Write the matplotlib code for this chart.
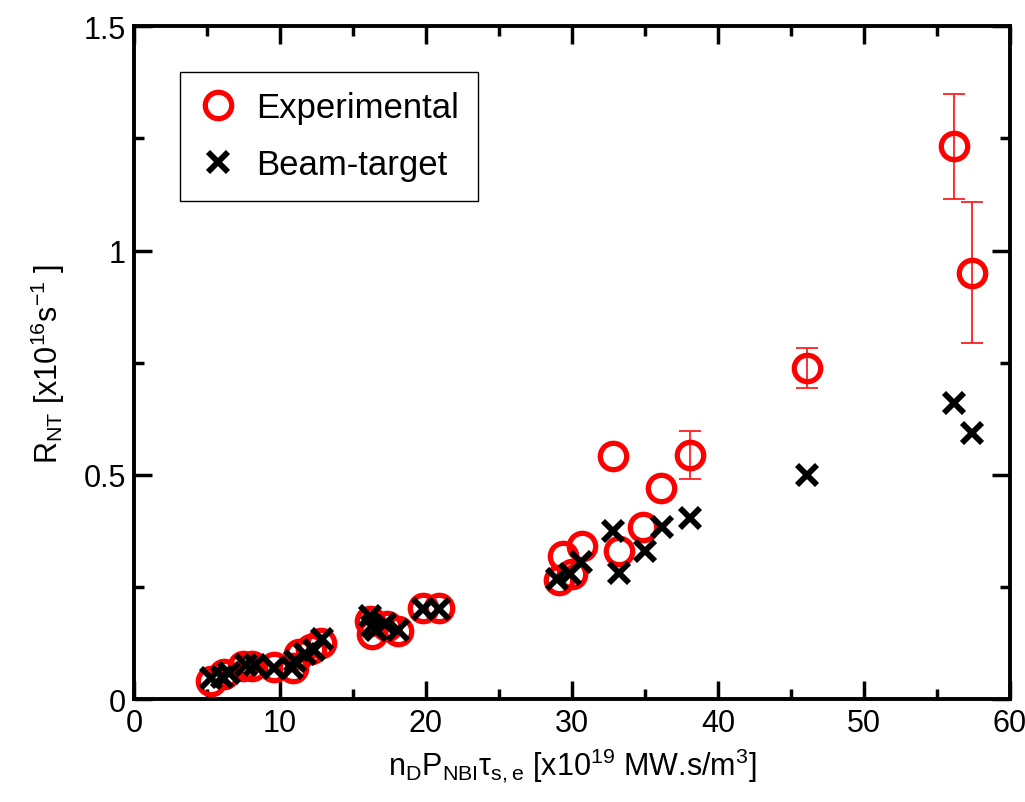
import matplotlib
matplotlib.use("Agg")
from matplotlib import pyplot as plt
from matplotlib.ticker import MultipleLocator, FuncFormatter

plt.rcParams['font.family'] = ['Liberation Sans', 'DejaVu Sans']
plt.rcParams['mathtext.fontset'] = 'custom'
plt.rcParams['mathtext.rm'] = 'Liberation Sans'
plt.rcParams['mathtext.it'] = 'Liberation Sans'
plt.rcParams['mathtext.default'] = 'rm'

# experimental points (x in 1e19 MW.s/m3, y in 1e16 /s)
exp_x = [5.3, 6.2, 7.5, 8.1, 9.6, 10.9, 11.3, 12.1, 12.8, 16.2, 16.3, 17.3, 18.1, 19.8, 20.9,
         29.1, 29.4, 30.0, 30.7, 32.8, 33.2, 34.9, 36.1, 38.1, 46.1, 56.2, 57.4]
exp_y = [0.041, 0.056, 0.074, 0.074, 0.072, 0.070, 0.100, 0.111, 0.126, 0.175, 0.145, 0.163, 0.152, 0.204, 0.204,
         0.265, 0.319, 0.279, 0.342, 0.542, 0.330, 0.384, 0.470, 0.544, 0.738, 1.233, 0.951]
err_x = [38.1, 46.1, 56.2, 57.4]
err_y = [0.544, 0.738, 1.233, 0.951]
err_v = [0.053, 0.044, 0.117, 0.157]

# beam-target calculation
bt_x = [5.3, 6.0, 6.5, 7.7, 8.3, 9.6, 10.8, 11.0, 11.7, 12.3, 12.9, 16.2, 16.3, 16.6, 17.2, 18.1, 19.8, 20.9,
        29.0, 29.9, 30.6, 32.8, 33.2, 35.0, 36.2, 38.1, 46.1, 56.2, 57.4]
bt_y = [0.048, 0.050, 0.058, 0.077, 0.077, 0.070, 0.070, 0.085, 0.100, 0.110, 0.134, 0.185, 0.163, 0.155, 0.167, 0.155, 0.200, 0.200,
        0.267, 0.279, 0.306, 0.375, 0.282, 0.330, 0.385, 0.405, 0.500, 0.660, 0.594]

fig = plt.figure(figsize=(10.25, 8.03), dpi=100)
ax = fig.add_axes([0.1307, 0.128, 0.8545, 0.838])

ax.errorbar(err_x, err_y, yerr=err_v, fmt='none', ecolor='#ff2020', elinewidth=1.3,
            capsize=8, capthick=1.3, zorder=1)
ax.plot(exp_x, exp_y, 'o', ms=19, mfc='none', mec='#ff0000', mew=3.8, label='Experimental', zorder=2)
ax.plot(bt_x, bt_y, 'x', ms=14, mec='black', mew=4.2, label='Beam-target', zorder=3)

ax.set_xlim(0, 60)
ax.set_ylim(0, 1.5)
ax.xaxis.set_major_locator(MultipleLocator(10))
ax.xaxis.set_minor_locator(MultipleLocator(5))
ax.yaxis.set_major_locator(MultipleLocator(0.5))
ax.yaxis.set_minor_locator(MultipleLocator(0.25))
ax.yaxis.set_major_formatter(FuncFormatter(lambda v, p: '%g' % v))

for s in ax.spines.values():
    s.set_linewidth(2.8)
ax.tick_params(which='both', direction='in', top=True, right=True, width=2.5, labelsize=22, pad=6)
ax.tick_params(which='major', length=13)
ax.tick_params(which='minor', length=7)

ax.set_xlabel(r'n$_D$P$_{NBI}$$\tau_{s,e}$ [x10$^{19}$ MW.s/m$^3$]', fontsize=22, labelpad=6)
ax.set_ylabel(r'R$_{NT}$ [x10$^{16}$s$^{-1}$ ]', fontsize=22, labelpad=12)

leg = ax.legend(loc='upper left', bbox_to_anchor=(0.052, 0.932), borderaxespad=0, fontsize=25,
                fancybox=False, framealpha=1, edgecolor='black', handletextpad=0.55,
                handlelength=1.1, borderpad=0.55, labelspacing=0.7, markerscale=1.0, numpoints=1)
leg.get_frame().set_linewidth(1.0)

fig.savefig('out.png', dpi=100)
